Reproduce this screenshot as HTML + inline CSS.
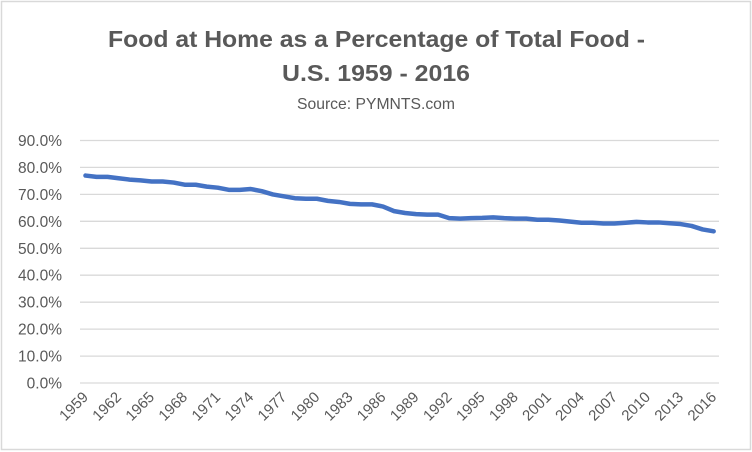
<!DOCTYPE html>
<html><head><meta charset="utf-8"><style>
html,body{margin:0;padding:0;background:#fff;}
svg{display:block;font-family:"Liberation Sans",sans-serif;}
</style></head><body>
<svg width="752" height="452" viewBox="0 0 752 452">
<rect x="1.5" y="1.5" width="749" height="448" fill="#fff" stroke="#d9d9d9" stroke-width="1.5"/>
<g fill="#595959" text-anchor="middle">
<text x="376.5" y="47" font-size="23" font-weight="bold" textLength="537" lengthAdjust="spacingAndGlyphs">Food at Home as a Percentage of Total Food -</text>
<text x="376" y="81" font-size="23" font-weight="bold" textLength="188" lengthAdjust="spacingAndGlyphs">U.S. 1959 - 2016</text>
<text x="376" y="109" font-size="16" textLength="158" lengthAdjust="spacingAndGlyphs">Source: PYMNTS.com</text>
</g>
<g stroke="#d9d9d9" stroke-width="1.3">
<line x1="80" x2="719" y1="140.5" y2="140.5"/>
<line x1="80" x2="719" y1="167.4" y2="167.4"/>
<line x1="80" x2="719" y1="194.4" y2="194.4"/>
<line x1="80" x2="719" y1="221.3" y2="221.3"/>
<line x1="80" x2="719" y1="248.3" y2="248.3"/>
<line x1="80" x2="719" y1="275.2" y2="275.2"/>
<line x1="80" x2="719" y1="302.2" y2="302.2"/>
<line x1="80" x2="719" y1="329.1" y2="329.1"/>
<line x1="80" x2="719" y1="356.1" y2="356.1"/>
<line x1="80" x2="719" y1="383" y2="383"/>
</g>
<g fill="#595959" font-size="15.5" text-anchor="end">
<text x="62" y="146">90.0%</text>
<text x="62" y="172.9">80.0%</text>
<text x="62" y="199.9">70.0%</text>
<text x="62" y="226.8">60.0%</text>
<text x="62" y="253.8">50.0%</text>
<text x="62" y="280.7">40.0%</text>
<text x="62" y="307.7">30.0%</text>
<text x="62" y="334.6">20.0%</text>
<text x="62" y="361.6">10.0%</text>
<text x="62" y="388.5">0.0%</text>
</g>
<g transform="translate(85.5,383) scale(11.02,-2.694)">
<polyline fill="none" stroke="#4472c4" stroke-width="4.5" stroke-linejoin="round" stroke-linecap="round" vector-effect="non-scaling-stroke"
points="0,77 1,76.5 2,76.5 3,76 4,75.5 5,75.2 6,74.8 7,74.8 8,74.4 9,73.6 10,73.6 11,72.9 12,72.5 13,71.7 14,71.7 15,72 16,71.2 17,70 18,69.3 19,68.6 20,68.4 21,68.4 22,67.6 23,67.2 24,66.5 25,66.3 26,66.3 27,65.5 28,63.8 29,63.1 30,62.7 31,62.5 32,62.5 33,61.2 34,61 35,61.2 36,61.3 37,61.5 38,61.2 39,61 40,61 41,60.6 42,60.6 43,60.3 44,59.9 45,59.5 46,59.5 47,59.2 48,59.2 49,59.5 50,59.8 51,59.6 52,59.6 53,59.3 54,59 55,58.3 56,57 57,56.3"/>
</g>
<g fill="#595959" font-size="15" text-anchor="end">
<text transform="translate(89,398) rotate(-45)">1959</text>
<text transform="translate(122.1,398) rotate(-45)">1962</text>
<text transform="translate(155.2,398) rotate(-45)">1965</text>
<text transform="translate(188.2,398) rotate(-45)">1968</text>
<text transform="translate(221.3,398) rotate(-45)">1971</text>
<text transform="translate(254.4,398) rotate(-45)">1974</text>
<text transform="translate(287.4,398) rotate(-45)">1977</text>
<text transform="translate(320.5,398) rotate(-45)">1980</text>
<text transform="translate(353.6,398) rotate(-45)">1983</text>
<text transform="translate(386.6,398) rotate(-45)">1986</text>
<text transform="translate(419.7,398) rotate(-45)">1989</text>
<text transform="translate(452.8,398) rotate(-45)">1992</text>
<text transform="translate(485.8,398) rotate(-45)">1995</text>
<text transform="translate(518.9,398) rotate(-45)">1998</text>
<text transform="translate(552,398) rotate(-45)">2001</text>
<text transform="translate(585,398) rotate(-45)">2004</text>
<text transform="translate(618.1,398) rotate(-45)">2007</text>
<text transform="translate(651.2,398) rotate(-45)">2010</text>
<text transform="translate(684.2,398) rotate(-45)">2013</text>
<text transform="translate(717.3,398) rotate(-45)">2016</text>
</g>
</svg>
</body></html>
